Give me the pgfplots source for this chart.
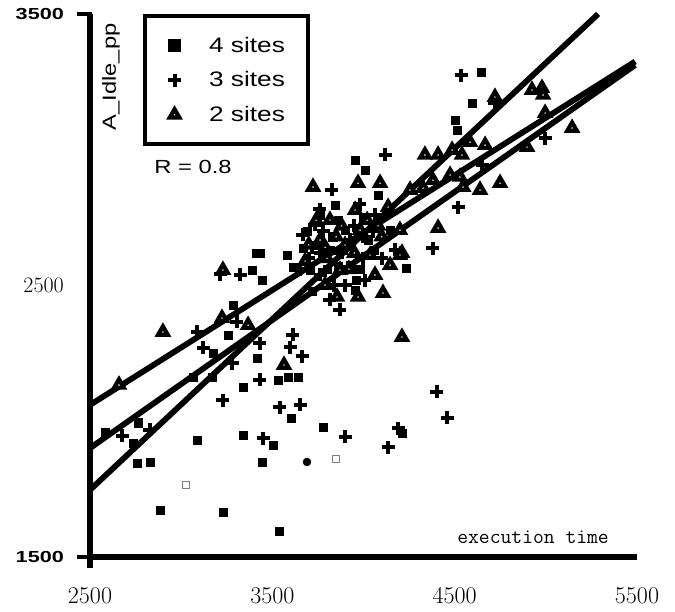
\documentclass[border=0pt]{standalone}
\usepackage{pgfplots}
\pgfplotsset{compat=1.18}
\usepackage{fontspec}
\newfontfamily\hvA[FakeStretch=1.25]{Liberation Sans}
\newfontfamily\hvB[FakeStretch=1.35]{Liberation Sans}
\begin{document}
\begin{tikzpicture}
\path[use as bounding box] (-90pt,-55pt) rectangle (585pt,557pt);
\begin{axis}[
  scale only axis, width=547pt, height=543pt,
  xmin=2500, xmax=5500, ymin=1500, ymax=3500,
  clip=false,
  axis x line=bottom, axis y line=left,
  axis line style={line width=5.5pt, -},
  every outer x axis line/.append style={-},
  every outer y axis line/.append style={-},
  xtick={2500,3500,4500,5500},
  xticklabels={2500,3500,4500,5500},
  ytick={1500,2500,3500},
  yticklabels={{\hvB\bfseries\fontsize{16}{16}\selectfont 1500},{\rmfamily\fontsize{22}{22}\selectfont 2500},{\hvB\bfseries\fontsize{16}{16}\selectfont 3500}},
  major tick length=0pt, tick style={draw=none},
  xticklabel style={font=\rmfamily\fontsize{24}{24}\selectfont, inner sep=0pt, anchor=north},
  xticklabel shift=30pt,
  yticklabel style={inner sep=0pt, anchor=east},
  yticklabel shift=26pt,
  legend cell align=left,
  legend style={at={(axis cs:2791,3500)}, anchor=north west, draw=black, line width=4pt,
    inner xsep=23pt, inner ysep=21pt, row sep=18pt,
    font=\hvA\fontsize{21}{21}\selectfont,
    nodes={inner sep=0pt},
    /tikz/every odd column/.append style={column sep=28pt}},
]
% 4 sites
\addplot[only marks, mark=square*, mark size=4.2pt, black] coordinates {
(2582,1960) (2763,1994) (2736,1920) (2758,1846) (2829,1850) (3087,1931)
(3339,1949) (3504,1912) (3443,1850) (3778,1979) (2884,1673) (3229,1666)
(3537,1596) (3339,2126) (3531,2152) (3586,2163) (3641,2163) (3602,2012)
(3416,2233) (3175,2251) (3065,2163) (3169,2163) (3257,2318) (3284,2428)
(3389,2557) (3443,2520) (3432,2620) (3581,2612) (3613,2568) (3410,2620)
(3668,2638) (3954,2962) (4008,2925) (4080,2833) (4502,3109) (4513,3073)
(4595,3172) (4645,3286) (3762,2760) (3844,2796) (3899,2704) (3707,2557)
(3816,2631) (3926,2575) (4025,2668) (3954,2483) (4146,2704) (4233,2564)
(4211,1957) (3750,2650) (3880,2560) (3980,2560) (4000,2750) (3860,2740)
(3690,2700) (3800,2560) (3930,2650) (4060,2630) (3720,2480) (3830,2680) (3960,2520)
};
\addlegendentry{4 sites}
% 3 sites
\addplot[only marks, mark=+, mark size=6.5pt, line width=4pt, black, mark options={line width=4pt}] coordinates {
(2829,1968) (2676,1946) (3449,1938) (3229,2078) (3432,2152) (3542,2052)
(3652,2060) (3663,2240) (3597,2273) (3613,2318) (3087,2329) (3120,2270)
(3279,2214) (3306,2366) (3432,2288) (3323,2539) (3213,2542) (3762,2620)
(3668,2686) (4118,2981) (3827,2852) (4996,3043) (4650,2944) (4519,2789)
(4381,2638) (4403,2108) (4458,2012) (3899,1942) (4135,1905) (4190,1975)
(3871,2410) (4535,3275) (4721,3172) (3734,2723) (3926,2668) (4008,2520)
(3816,2447) (4063,2760) (4173,2631) (3762,2539) (3700,2600) (3850,2580)
(3950,2720) (4050,2700) (3780,2700) (3900,2500) (4000,2600)
(3650,2560) (3760,2780) (3880,2620) (4000,2680) (4100,2600) (3720,2640) (3840,2500) (3980,2800)
};
\addlegendentry{3 sites}
% 2 sites
\addplot[only marks, mark=triangle*, mark size=5.5pt, line width=4.2pt, draw=black, fill=white, mark options={line width=4.2pt}] coordinates {
(2659,2134) (2900,2329) (3224,2380) (3367,2354) (3229,2557) (3564,2207)
(4211,2310) (4409,2712) (4200,2704) (4211,2620) (4135,2789) (4091,2877)
(3970,2877) (3723,2863) (4749,2877) (4639,2852) (4475,2907) (4529,2900)
(4546,2863) (4327,2859) (4381,2888) (4255,2852) (4337,2981) (4409,2981)
(4486,2999) (4540,2981) (4584,3028) (4667,3017) (4897,3010) (4996,3135)
(5144,3080) (4924,3220) (4979,3227) (4985,3202) (4721,3194) (3855,2458)
(3970,2458) (4107,2472) (4200,2612) (3816,2741) (3899,2649) (3981,2704)
(3762,2668) (4036,2612) (3871,2557) (3954,2778) (4063,2539) (3789,2502)
(4146,2575) (3700,2650) (3850,2680) (4100,2680) (3950,2620) (3800,2600)
(3680,2590) (3790,2640) (3920,2560) (4020,2740) (3740,2740) (3880,2720) (4080,2720)
};
\addlegendentry{2 sites}
% odd marks
\addplot[only marks, mark=*, mark size=4pt, black, forget plot] coordinates {(3690,1850)};
\addplot[only marks, mark=square, mark size=3.5pt, draw=gray, line width=0.8pt, forget plot] coordinates {(3027,1765) (3849,1861)};
% regression lines
\addplot[line width=5.8pt, black, no marks, forget plot] coordinates {(2500,1747) (5287,3500)};
\addplot[line width=5.8pt, black, no marks, forget plot] coordinates {(2500,2060) (5490,3325)};
\addplot[line width=5.8pt, black, no marks, forget plot] coordinates {(2500,1901) (5490,3312)};
% axis extras
\draw[line width=5.5pt] (axis cs:2500,1500) -- ++(0pt,-11pt);
\draw[line width=4.5pt] (axis cs:2500,3500) ++(2.5pt,0pt) -- ++(-15.5pt,0pt);
\draw[line width=4.5pt] (axis cs:2500,1500) -- ++(-13pt,0pt);
% texts
\node[font=\hvA\fontsize{19}{19}\selectfont] at (axis cs:3065,2936) {R = 0.8};
\node[rotate=90, font=\hvA\fontsize{19}{19}\selectfont] at (axis cs:2615,3268) {A\_Idle\_pp};
\node[font=\ttfamily\fontsize{21}{21}\selectfont] at (axis cs:4930,1574) {execution time};
\end{axis}
\end{tikzpicture}
\end{document}
